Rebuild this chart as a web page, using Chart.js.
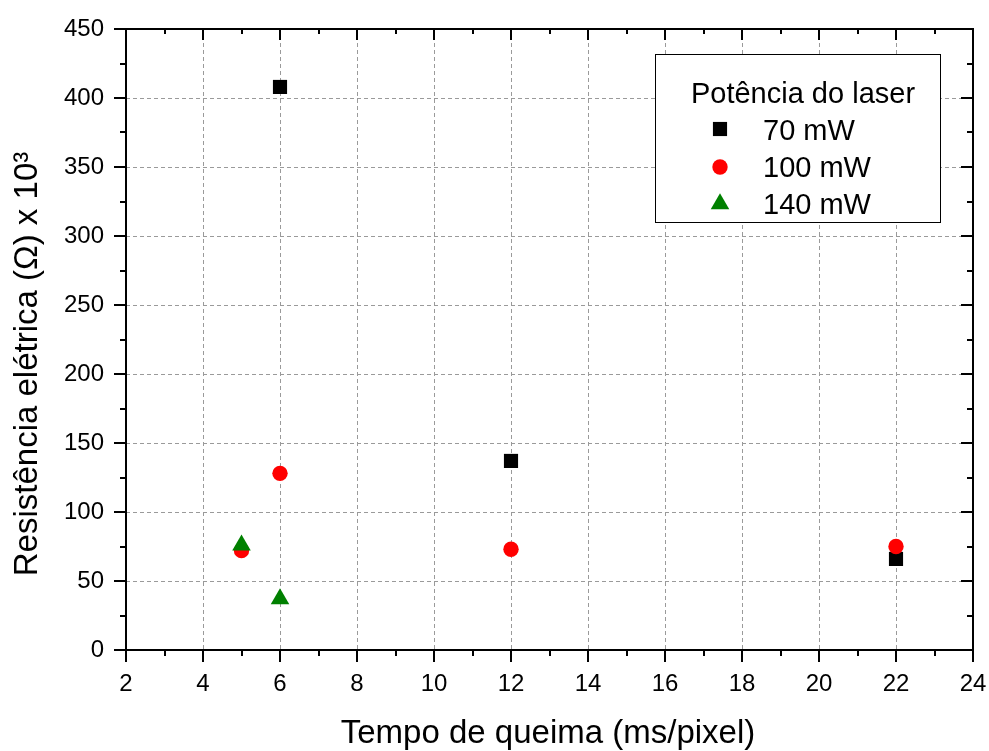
<!DOCTYPE html>
<html>
<head>
<meta charset="utf-8">
<script src="https://cdn.jsdelivr.net/npm/chart.js@4.4.1/dist/chart.umd.min.js"></script>
<style>
html, body { margin: 0; padding: 0; background: #fff; }
#wrap { width: 989px; height: 751px; }
</style>
</head>
<body>
<div id="wrap"><canvas id="chart" width="989" height="751"></canvas></div>
<script>
// Values
const seriesNames = ['70 mW', '100 mW', '140 mW'];
const time70 = [6, 12, 22];
const res70 = [408, 137, 66];
const time100 = [5, 6, 12, 22];
const res100 = [72, 128, 73, 75];
const time140 = [5, 6];
const res140 = [76, 37];

const xTickValues = [2, 4, 6, 8, 10, 12, 14, 16, 18, 20, 22, 24];
const yTickValues = [0, 50, 100, 150, 200, 250, 300, 350, 400, 450];

const xTitle = 'Tempo de queima (ms/pixel)';
const yTitle = 'Resistência elétrica (Ω) x 10³';
const legendTitle = 'Potência do laser';

const FONT = "'Liberation Sans', Arial, sans-serif";
const colors = ['#000000', '#ff0000', '#008000'];
const styles = ['rect', 'circle', 'triangle'];
const radii = [10, 7.7, 10.7];

const toPoints = (xs, ys) => xs.map((x, i) => ({x: x, y: ys[i]}));

const xMin = xTickValues[0], xMax = xTickValues[xTickValues.length - 1];
const yMin = yTickValues[0], yMax = yTickValues[yTickValues.length - 1];

// frame, inward/outward ticks, titles and legend box
const decorations = {
    id: 'decorations',
    afterDraw(chart) {
        const {ctx, chartArea: a, scales: {x, y}} = chart;
        ctx.save();
        ctx.strokeStyle = '#000';
        ctx.lineWidth = 2;
        ctx.strokeRect(a.left, a.top, a.right - a.left, a.bottom - a.top);

        ctx.beginPath();
        for (let v = xMin; v <= xMax; v += 1) {
            const px = Math.round(x.getPixelForValue(v));
            const major = (v - xMin) % 2 === 0;
            ctx.moveTo(px, a.bottom);
            ctx.lineTo(px, a.bottom + (major ? 12 : 6));
            ctx.moveTo(px, a.top);
            ctx.lineTo(px, a.top + (major ? 11 : 5));
        }
        for (let v = yMin; v <= yMax; v += 25) {
            const py = Math.round(y.getPixelForValue(v));
            const major = v % 50 === 0;
            ctx.moveTo(a.left, py);
            ctx.lineTo(a.left - (major ? 12 : 6), py);
            ctx.moveTo(a.right, py);
            ctx.lineTo(a.right - (major ? 12 : 6), py);
        }
        ctx.stroke();

        // axis titles
        ctx.fillStyle = '#000';
        ctx.font = '33px ' + FONT;
        ctx.textAlign = 'center';
        ctx.textBaseline = 'middle';
        ctx.fillText(xTitle, 548, 734);
        ctx.save();
        ctx.translate(28, 364);
        ctx.rotate(-Math.PI / 2);
        ctx.fillText(yTitle, 0, 0);
        ctx.restore();

        // legend
        ctx.fillStyle = '#fff';
        ctx.fillRect(655, 54, 285, 168);
        ctx.lineWidth = 1;
        ctx.strokeStyle = '#000';
        ctx.strokeRect(655.5, 54.5, 285, 168);
        ctx.fillStyle = '#000';
        ctx.font = '29px ' + FONT;
        ctx.textBaseline = 'alphabetic';
        ctx.fillText(legendTitle, 803, 103);
        const rowY = [129, 167, 204];
        const baseY = [140, 177, 214];
        seriesNames.forEach((name, i) => {
            ctx.fillStyle = colors[i];
            Chart.helpers.drawPoint(ctx, {pointStyle: styles[i], radius: radii[i], rotation: 0, borderWidth: 0}, 720, rowY[i]);
            ctx.fillStyle = '#000';
            ctx.textAlign = 'left';
            ctx.fillText(name, 763, baseY[i]);
        });
        ctx.restore();
    }
};

const gridColor = edge => ctx => (ctx.tick && edge.includes(ctx.tick.value)) ? 'rgba(0,0,0,0)' : '#9a9a9a';

const ctx = document.getElementById('chart').getContext('2d');
new Chart(ctx, {
    type: 'scatter',
    data: {
        datasets: [
            {label: seriesNames[0], data: toPoints(time70, res70), order: 2},
            {label: seriesNames[1], data: toPoints(time100, res100), order: 1},
            {label: seriesNames[2], data: toPoints(time140, res140), order: 0}
        ].map((d, i) => Object.assign(d, {
            pointStyle: styles[i],
            pointRadius: radii[i],
            pointHoverRadius: radii[i],
            pointBackgroundColor: colors[i],
            pointBorderWidth: 0,
            borderColor: colors[i],
            backgroundColor: colors[i]
        }))
    },
    options: {
        responsive: false,
        devicePixelRatio: 1,
        animation: false,
        layout: {padding: {top: 29, right: 16, left: 0, bottom: 0}},
        plugins: {legend: {display: false}, tooltip: {enabled: false}},
        scales: {
            x: {
                type: 'linear',
                min: xMin,
                max: xMax,
                afterBuildTicks: s => { s.ticks = xTickValues.map(v => ({value: v})); },
                afterFit: s => { s.height = 101; s.paddingLeft = 0; s.paddingRight = 0; },
                grid: {color: gridColor([xMin, xMax]), lineWidth: 1, drawTicks: false},
                border: {display: false, dash: [4, 3]},
                ticks: {padding: 20, color: '#000', font: {family: FONT, size: 24}, maxRotation: 0}
            },
            y: {
                type: 'linear',
                min: yMin,
                max: yMax,
                afterBuildTicks: s => { s.ticks = yTickValues.map(v => ({value: v})); },
                afterFit: s => { s.width = 126; s.paddingTop = 0; s.paddingBottom = 0; },
                grid: {color: gridColor([yMin, yMax]), lineWidth: 1, drawTicks: false},
                border: {display: false, dash: [4, 3]},
                ticks: {padding: 22, color: '#000', font: {family: FONT, size: 24}}
            }
        }
    },
    plugins: [decorations]
});
</script>
</body>
</html>
